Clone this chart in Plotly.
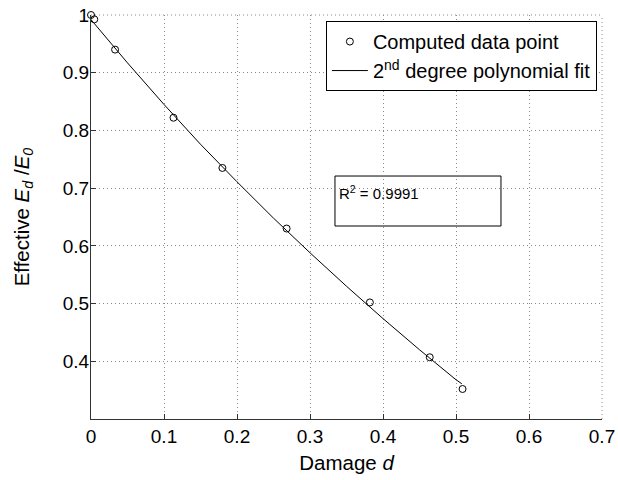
import plotly.graph_objects as go

# Computed data points
damage = [0.0, 0.0045, 0.033, 0.113, 0.180, 0.268, 0.382, 0.464, 0.509]
ratio = [1.000, 0.9925, 0.940, 0.822, 0.735, 0.630, 0.502, 0.407, 0.352]

# 2nd degree polynomial fit line
fit_x = [0.0, 0.05, 0.10, 0.15, 0.20, 0.25, 0.30, 0.35, 0.40, 0.45, 0.50, 0.508]
fit_y = [0.992, 0.917, 0.845, 0.776, 0.711, 0.648, 0.588, 0.530, 0.474, 0.420, 0.368, 0.361]

x_ticks = [0, 0.1, 0.2, 0.3, 0.4, 0.5, 0.6, 0.7]
x_tick_text = ["0", "0.1", "0.2", "0.3", "0.4", "0.5", "0.6", "0.7"]
y_ticks = [0.4, 0.5, 0.6, 0.7, 0.8, 0.9, 1.0]
y_tick_text = ["0.4", "0.5", "0.6", "0.7", "0.8", "0.9", "1"]

r2_text = "R<sup>2</sup> = 0.9991"

FONT = "Liberation Sans, Arial, Helvetica, sans-serif"
GRID = "#8a8a8a"
GRIDDASH = "1px,3px"

fig = go.Figure()
fig.add_trace(go.Scatter(
    x=damage, y=ratio, mode="markers", name="Computed data point",
    marker=dict(symbol="circle-open", size=7, color="black", line=dict(width=1, color="black")),
    cliponaxis=False,
))
fig.add_trace(go.Scatter(
    x=fit_x, y=fit_y, mode="lines", name="2<sup>nd</sup> degree polynomial fit",
    line=dict(color="black", width=1),
))

# dotted top and right frame (grid at the range ends)
fig.add_shape(type="line", xref="paper", yref="paper", x0=0, x1=1, y0=1, y1=1,
              line=dict(color=GRID, width=1, dash=GRIDDASH), layer="below")
fig.add_shape(type="line", xref="paper", yref="paper", x0=1, x1=1, y0=0, y1=1,
              line=dict(color=GRID, width=1, dash=GRIDDASH), layer="below")

# R^2 box
fig.add_shape(type="rect", xref="x", yref="y", x0=0.3342, x1=0.5616, y0=0.6344, y1=0.721,
              line=dict(color="black", width=1), fillcolor="white", layer="below")
fig.add_annotation(x=0.337, y=0.6916, xref="x", yref="y", text=r2_text, showarrow=False,
                   xanchor="left", yanchor="middle", font=dict(size=15, color="black", family=FONT))

axis_common = dict(
    showline=True, linecolor="#333333", linewidth=1, mirror=False,
    ticks="inside", ticklen=5, tickcolor="#333333",
    showgrid=True, gridcolor=GRID, griddash=GRIDDASH, gridwidth=1,
    zeroline=False, automargin=False,
    tickfont=dict(size=19, color="black", family=FONT),
)

fig.update_layout(
    width=618, height=480,
    margin=dict(l=91, r=16, t=15, b=61),
    paper_bgcolor="white", plot_bgcolor="white",
    font=dict(family=FONT, color="black"),
    showlegend=True,
    legend=dict(
        x=0.99, y=0.985, xanchor="right", yanchor="top",
        bordercolor="black", borderwidth=1, bgcolor="white",
        font=dict(size=20, color="black", family=FONT),
        tracegroupgap=0, itemwidth=36,
    ),
    xaxis=dict(
        range=[0, 0.7], tickvals=x_ticks, ticktext=x_tick_text,
        title=dict(text="Damage <i>d</i>", font=dict(size=20.5, color="black", family=FONT), standoff=9),
        **axis_common,
    ),
    yaxis=dict(
        range=[0.3, 1.0], tickvals=y_ticks, ticktext=y_tick_text, ticklabelstandoff=-3,
        title=dict(text="Effective <i>E<sub>d</sub></i> /<i>E<sub>0</sub></i>",
                   font=dict(size=20.5, color="black", family=FONT), standoff=27),
        **axis_common,
    ),
)

fig.write_html("out.html", config={"displayModeBar": False},
               post_script="document.body.style.margin='0';document.body.style.padding='0';")
